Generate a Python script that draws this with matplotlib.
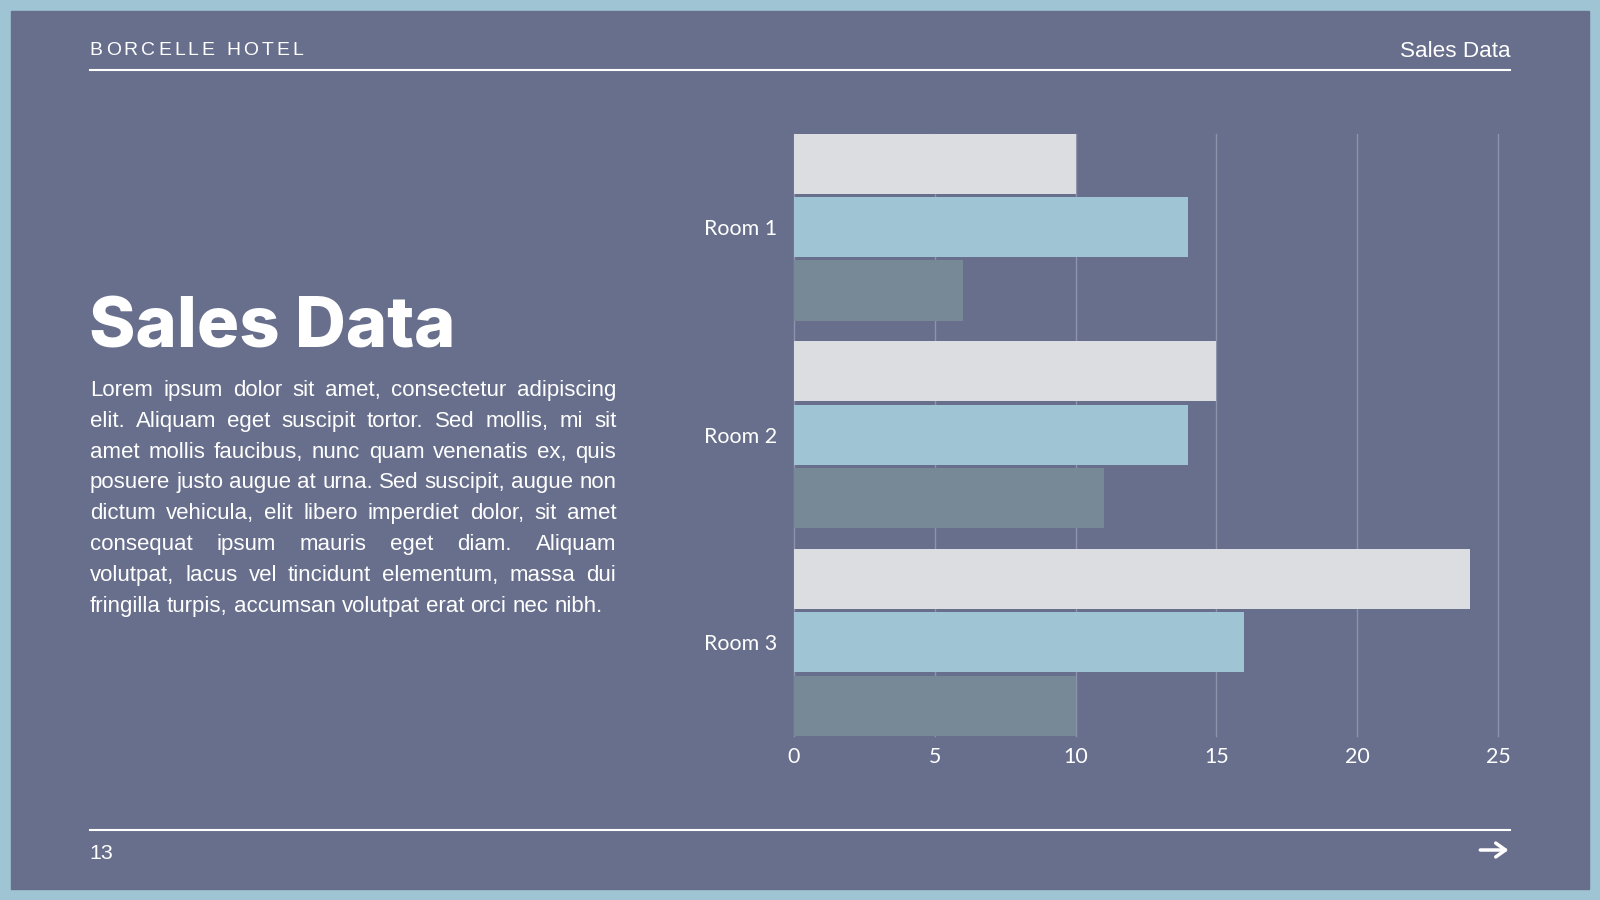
import matplotlib
matplotlib.use("Agg")
import matplotlib.pyplot as plt
import numpy as np
from matplotlib.patches import Rectangle, FancyArrowPatch

# data
rooms = ["Room 1", "Room 2", "Room 3"]
series_a = [10, 15, 24]
series_b = [14, 14, 16]
series_c = [6, 11, 10]
x_ticks = [0, 5, 10, 15, 20, 25]

body_lines = [
    "Lorem ipsum dolor sit amet, consectetur adipiscing",
    "elit. Aliquam eget suscipit tortor. Sed mollis, mi sit",
    "amet mollis faucibus, nunc quam venenatis ex, quis",
    "posuere justo augue at urna. Sed suscipit, augue non",
    "dictum vehicula, elit libero imperdiet dolor, sit amet",
    "consequat ipsum mauris eget diam. Aliquam",
    "volutpat, lacus vel tincidunt elementum, massa dui",
    "fringilla turpis, accumsan volutpat erat orci nec nibh.",
]

BG = "#686f8c"
BORDER = "#9fc4d4"
COLORS = ["#dcdde1", "#9fc4d4", "#778897"]

# reference layout is 1568 x 882 px, output is 1600 x 900
RW, RH = 1568, 882
W, H = 1600, 900
S = W / RW


def fx(x):
    return x / RW


def fy(y):
    return 1 - y / RH


def pt(px):
    return px * S * 72 / 100


fig = plt.figure(figsize=(16, 9), dpi=100)
fig.patch.set_facecolor(BORDER)
fig.add_artist(Rectangle((fx(11), fy(871)), fx(1546), 860 / RH,
                         transform=fig.transFigure, color=BG, zorder=-10))
renderer = fig.canvas.get_renderer()


def text_w(s, **kw):
    t = fig.text(0, 0, s, **kw)
    w = t.get_window_extent(renderer).width
    t.remove()
    return w


# header / footer
fig.add_artist(plt.Line2D([fx(88), fx(1480)], [fy(69), fy(69)], color="white", lw=1.5))
fig.add_artist(plt.Line2D([fx(88), fx(1480)], [fy(813), fy(813)], color="white", lw=1.5))

# letter-spaced header
hdr = "BORCELLE HOTEL"
hdr_kw = dict(color="white", fontsize=pt(19), family="Liberation Sans", va="center", ha="left")
space = text_w("a a", **hdr_kw) - text_w("aa", **hdr_kw)
cw = [text_w(c, **hdr_kw) if c != " " else space for c in hdr]
gap = ((297 - 88) * S - sum(cw)) / (len(hdr) - 1)
x = 88 * S
for c, w in zip(hdr, cw):
    fig.text(x / W, fy(49.5), c, **hdr_kw)
    x += w + gap

fig.text(fx(1480), fy(50.5), "Sales Data", color="white", fontsize=pt(22),
         family="Liberation Sans", ha="right", va="center")
fig.text(fx(88), fy(836), "13", color="white", fontsize=pt(21),
         family="Liberation Sans", ha="left", va="center")
fig.add_artist(FancyArrowPatch((fx(1448), fy(833)), (fx(1481), fy(833)),
                               transform=fig.transFigure,
                               arrowstyle="->,head_length=7,head_width=5",
                               color="white", lw=2.5, mutation_scale=1))

# title
fig.text(fx(87), fy(322), "Sales Data", color="white", fontsize=pt(69),
         family="Inter", weight="heavy", ha="left", va="center")

# justified body text
body_kw = dict(color="white", fontsize=pt(20), family="Liberation Sans", va="center", ha="left")
natural = text_w(body_lines[-1], **body_kw)
body_kw["fontsize"] = pt(20) * (589 - 88) * S / natural
L, R = 88 * S, 604 * S
line_y = [383, 413, 443, 473, 503, 534, 564, 594]
body_space = text_w("a a", **body_kw) - text_w("aa", **body_kw)
for i, (line, yy) in enumerate(zip(body_lines, line_y)):
    words = line.split()
    ws = [text_w(w, **body_kw) for w in words]
    if i < len(body_lines) - 1:
        g = (R - L - sum(ws)) / (len(words) - 1)
    else:
        g = body_space
    x = L
    for w_str, w in zip(words, ws):
        fig.text(x / W, fy(yy), w_str, **body_kw)
        x += w + g

# chart
ax = fig.add_axes([fx(778), fy(721), (1468 - 778) / RW, (721 - 131) / RH])
ax.set_facecolor("none")
y = np.arange(len(rooms))
off, bh = 0.305, 0.29
for vals, c, o in zip([series_a, series_b, series_c], COLORS, [-off, 0, off]):
    ax.barh(y + o, vals, height=bh, color=c, zorder=2)
ax.set_xlim(0, 25)
ax.set_ylim(2.45, -0.45)
ax.set_xticks(x_ticks)
ax.set_yticks(y)
ax.set_yticklabels(rooms)
for s in ax.spines.values():
    s.set_visible(False)
ax.grid(axis="x", color="#8d93ab", lw=1, zorder=0)
for gl in ax.xaxis.get_gridlines():
    gl.set_clip_on(False)
ax.set_axisbelow(True)
ax.tick_params(length=0, colors="white", labelsize=pt(21))
ax.tick_params(axis="x", pad=pt(11))
ax.tick_params(axis="y", pad=pt(16))
for lab in ax.get_xticklabels() + ax.get_yticklabels():
    lab.set_family("Lato")

fig.savefig("out.png", dpi=100, facecolor=fig.get_facecolor())
